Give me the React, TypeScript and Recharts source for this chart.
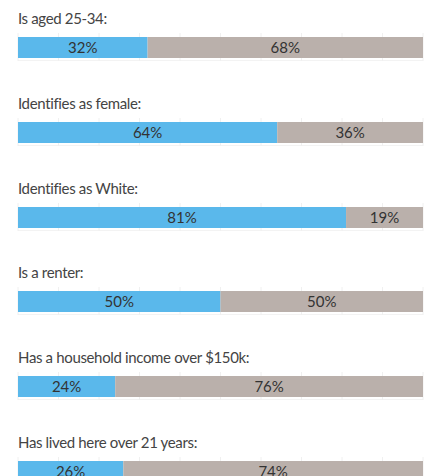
import { BarChart, Bar, XAxis, YAxis, CartesianGrid, LabelList } from 'recharts';

const questions = [
  'Is aged 25-34:',
  'Identifies as female:',
  'Identifies as White:',
  'Is a renter:',
  'Has a household income over $150k:',
  'Has lived here over 21 years:',
];
const yesPct = [32, 64, 81, 50, 24, 26];
const noPct = [68, 36, 19, 50, 76, 74];
const pctTicks = [0, 10, 20, 30, 40, 50, 60, 70, 80, 90, 100];

const BLUE = '#5ab8eb';
const GREY = '#bab0ab';
const FONT = 'Lato, "Open Sans", sans-serif';
const ROW_STEP = 84.8;

function Row({ title, yes, no, top }: { title: string; yes: number; no: number; top: number }) {
  const data = [{ name: title, yes, no }];
  return (
    <div style={{ position: 'absolute', left: 0, top, width: 427 }}>
      <div
        style={{
          position: 'absolute', left: 18, top: 8, fontSize: 15, lineHeight: '20px',
          color: '#444', whiteSpace: 'nowrap', letterSpacing: -0.35,
        }}
      >
        {title}
      </div>
      <div style={{ position: 'absolute', left: 0, top: 33 }}>
        <div style={{ position: 'absolute', left: 18, top: 27, width: 405, borderBottom: '1px solid #f3f3f3' }} />
        <BarChart
          width={427}
          height={28}
          data={data}
          layout="vertical"
          margin={{ top: 0, right: 4, bottom: 0, left: 18 }}
          barSize={21}
        >
          <CartesianGrid horizontal={false} stroke="#f0f0f0" />
          <XAxis type="number" domain={[0, 100]} ticks={pctTicks} hide />
          <YAxis type="category" dataKey="name" hide />
          <Bar dataKey="yes" stackId="a" fill={BLUE} isAnimationActive={false}>
            <LabelList dataKey="yes" position="center" formatter={(v: any) => `${v}%`} fill="#333" fontSize={15} />
          </Bar>
          <Bar dataKey="no" stackId="a" fill={GREY} isAnimationActive={false}>
            <LabelList dataKey="no" position="center" formatter={(v: any) => `${v}%`} fill="#333" fontSize={15} />
          </Bar>
        </BarChart>
      </div>
    </div>
  );
}

export default function App() {
  return (
    <div style={{ position: 'absolute', left: 0, top: 0, width: 427, height: 476, overflow: 'hidden', background: '#fff', fontFamily: FONT }}>
      {questions.map((q, i) => (
        <Row key={q} title={q} yes={yesPct[i]} no={noPct[i]} top={i * ROW_STEP} />
      ))}
    </div>
  );
}
